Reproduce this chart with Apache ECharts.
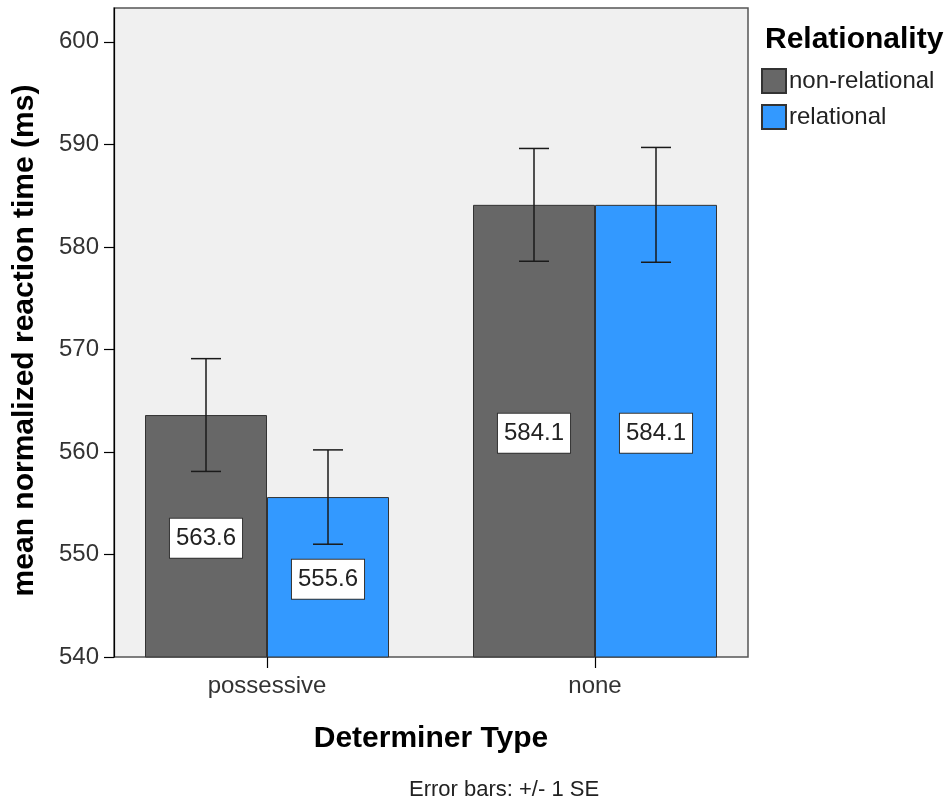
<!DOCTYPE html>
<html>
<head>
<meta charset="utf-8">
<script src="https://cdn.jsdelivr.net/npm/echarts@6/dist/echarts.min.js"></script>
<style>
  html, body { margin: 0; padding: 0; background: #ffffff; }
  #chart { width: 949px; height: 800px; }
</style>
</head>
<body>
<div id="chart"></div>
<script>
// Mean normalized reaction time by determiner type and relationality
const categories = ['possessive', 'none'];
const seriesNames = ['non-relational', 'relational'];
const nonRelationalMean = [563.6, 584.1];
const relationalMean = [555.6, 584.1];
// +/- 1 SE bounds
const nonRelationalLow = [558.1, 578.6];
const nonRelationalHigh = [569.1, 589.6];
const relationalLow = [551.0, 578.5];
const relationalHigh = [560.2, 589.7];
const yTicks = [540, 550, 560, 570, 580, 590, 600];
const yMin = 540;
const yMax = 603.3;

const FONT = "'Liberation Sans', Arial, sans-serif";
const BAR_W = 122;
const colors = ['#676767', '#3399ff'];

const chart = echarts.init(document.getElementById('chart'));

function errorSeries(low, high, offset) {
  return {
    type: 'custom',
    xAxisIndex: 1,
    yAxisIndex: 1,
    z: 10,
    silent: true,
    data: categories.map((c, i) => [i, low[i], high[i]]),
    renderItem: function (params, api) {
      const i = api.value(0);
      const lo = api.coord([i, api.value(1)]);
      const hi = api.coord([i, api.value(2)]);
      const x = lo[0] + offset;
      const half = 15;
      const st = { stroke: '#1a1a1a', lineWidth: 1.5 };
      return {
        type: 'group',
        children: [
          { type: 'line', shape: { x1: x, y1: hi[1], x2: x, y2: lo[1] }, style: st },
          { type: 'line', shape: { x1: x - half, y1: hi[1], x2: x + half, y2: hi[1] }, style: st },
          { type: 'line', shape: { x1: x - half, y1: lo[1], x2: x + half, y2: lo[1] }, style: st }
        ]
      };
    }
  };
}

const valueLabel = {
  show: true,
  position: 'inside',
  offset: [0, 2],
  formatter: p => p.value.toFixed(1),
  backgroundColor: '#ffffff',
  borderColor: '#333333',
  borderWidth: 1,
  padding: [8, 6, 7, 6],
  fontSize: 24,
  fontFamily: FONT,
  color: '#222222'
};

chart.setOption({
  animation: false,
  textStyle: { fontFamily: FONT },
  title: [
    {
      text: 'Relationality',
      left: 760,
      top: 20,
      textStyle: { fontSize: 30, fontWeight: 'bold', color: '#000', fontFamily: FONT }
    },
    {
      text: 'Error bars: +/- 1 SE',
      left: 404,
      top: 774,
      textStyle: { fontSize: 22, fontWeight: 'normal', color: '#222', fontFamily: FONT }
    }
  ],
  legend: {
    orient: 'vertical',
    left: 761,
    top: 68,
    itemWidth: 24,
    itemHeight: 24,
    itemGap: 10,
    padding: 0,
    icon: 'rect',
    data: seriesNames,
    textStyle: { fontSize: 24, color: '#222', fontFamily: FONT, padding: [0, 0, 0, -2] }
  },
  grid: [
    {
      left: 114, top: 8, width: 634, height: 649,
      show: true,
      backgroundColor: '#f0f0f0',
      borderColor: '#555555',
      borderWidth: 1.5
    },
    { left: 103, top: 8, width: 656, height: 649 }
  ],
  xAxis: [
    { type: 'category', gridIndex: 0, data: categories, show: false },
    {
      type: 'category',
      gridIndex: 1,
      data: categories,
      name: 'Determiner Type',
      nameLocation: 'middle',
      nameGap: 67,
      nameTextStyle: { fontSize: 30, fontWeight: 'bold', color: '#000', fontFamily: FONT },
      axisLine: { show: false },
      axisTick: { show: true, alignWithLabel: true, length: 11, lineStyle: { color: '#000', width: 1.2 } },
      axisLabel: { fontSize: 24, color: '#333', margin: 17, fontFamily: FONT },
      splitLine: { show: false }
    }
  ],
  yAxis: [
    {
      type: 'value',
      gridIndex: 0,
      min: yMin,
      max: yMax,
      interval: 10,
      name: 'mean normalized reaction time (ms)',
      nameLocation: 'middle',
      nameGap: 74,
      nameTextStyle: { fontSize: 30, fontWeight: 'bold', color: '#000', fontFamily: FONT, padding: [0, 16, 0, 0] },
      axisLine: { show: true, lineStyle: { color: '#000', width: 1.2 } },
      axisTick: { show: true, length: 10, customValues: yTicks, lineStyle: { color: '#000', width: 1.2 } },
      axisLabel: { fontSize: 24, color: '#333', margin: 15, customValues: yTicks, fontFamily: FONT },
      splitLine: { show: false }
    },
    { type: 'value', gridIndex: 1, min: yMin, max: yMax, interval: 10, show: false, splitLine: { show: false } }
  ],
  series: [
    {
      name: seriesNames[0],
      type: 'bar',
      xAxisIndex: 1,
      yAxisIndex: 1,
      barWidth: BAR_W,
      barGap: '0%',
      data: nonRelationalMean,
      itemStyle: { color: colors[0], borderColor: '#333333', borderWidth: 1 },
      label: valueLabel
    },
    {
      name: seriesNames[1],
      type: 'bar',
      xAxisIndex: 1,
      yAxisIndex: 1,
      barWidth: BAR_W,
      barGap: '0%',
      data: relationalMean,
      itemStyle: { color: colors[1], borderColor: '#333333', borderWidth: 1 },
      label: valueLabel
    },
    errorSeries(nonRelationalLow, nonRelationalHigh, -BAR_W / 2),
    errorSeries(relationalLow, relationalHigh, BAR_W / 2)
  ]
});
</script>
</body>
</html>
